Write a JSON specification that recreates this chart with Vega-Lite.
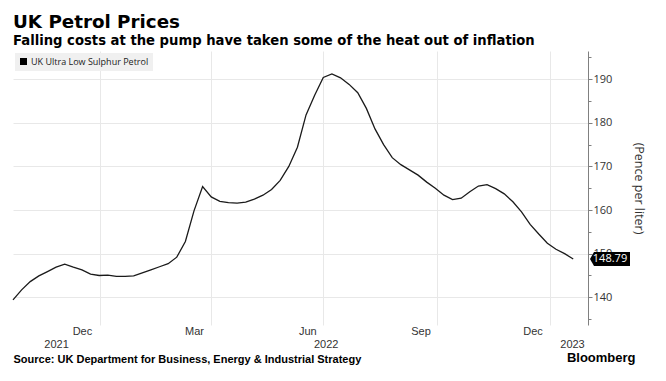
{
  "$schema": "https://vega.github.io/schema/vega-lite/v6.json",
  "autosize": {"type": "none"},
  "width": 575,
  "height": 274,
  "padding": {"left": 13, "top": 51, "right": 78, "bottom": 56},
  "background": "white",
  "title": {
    "text": "UK Petrol Prices",
    "subtitle": "Falling costs at the pump have taken some of the heat out of inflation",
    "anchor": "start",
    "frame": "group",
    "font": "DejaVu Sans",
    "fontSize": 18.3,
    "fontWeight": "bold",
    "color": "#000000",
    "subtitleFont": "DejaVu Sans",
    "subtitleFontSize": 13.2,
    "subtitleFontWeight": "bold",
    "subtitleColor": "#000000",
    "subtitlePadding": 3,
    "offset": 3
  },
  "config": {
    "view": {"stroke": null},
    "axis": {"labelFont": "Liberation Sans", "titleFont": "Liberation Sans"}
  },
  "data": {
    "values": [
      {"date": "2021-10-22", "value": 139.4},
      {"date": "2021-10-29", "value": 141.7},
      {"date": "2021-11-05", "value": 143.6},
      {"date": "2021-11-12", "value": 144.9},
      {"date": "2021-11-19", "value": 145.9},
      {"date": "2021-11-26", "value": 146.9},
      {"date": "2021-12-03", "value": 147.6},
      {"date": "2021-12-10", "value": 146.9},
      {"date": "2021-12-17", "value": 146.3},
      {"date": "2021-12-24", "value": 145.3},
      {"date": "2021-12-31", "value": 145.0},
      {"date": "2022-01-07", "value": 145.1},
      {"date": "2022-01-14", "value": 144.8},
      {"date": "2022-01-21", "value": 144.8},
      {"date": "2022-01-28", "value": 144.9},
      {"date": "2022-02-04", "value": 145.6},
      {"date": "2022-02-11", "value": 146.3},
      {"date": "2022-02-18", "value": 147.0},
      {"date": "2022-02-25", "value": 147.7},
      {"date": "2022-03-04", "value": 149.2},
      {"date": "2022-03-11", "value": 152.8},
      {"date": "2022-03-18", "value": 159.8},
      {"date": "2022-03-25", "value": 165.4},
      {"date": "2022-04-01", "value": 163.0},
      {"date": "2022-04-08", "value": 162.0},
      {"date": "2022-04-15", "value": 161.7},
      {"date": "2022-04-22", "value": 161.6},
      {"date": "2022-04-29", "value": 161.8},
      {"date": "2022-05-06", "value": 162.5},
      {"date": "2022-05-13", "value": 163.4},
      {"date": "2022-05-20", "value": 164.7},
      {"date": "2022-05-27", "value": 166.8},
      {"date": "2022-06-03", "value": 170.0},
      {"date": "2022-06-10", "value": 174.4},
      {"date": "2022-06-17", "value": 181.8},
      {"date": "2022-06-24", "value": 186.3},
      {"date": "2022-07-01", "value": 190.4},
      {"date": "2022-07-08", "value": 191.2},
      {"date": "2022-07-15", "value": 190.3},
      {"date": "2022-07-22", "value": 188.8},
      {"date": "2022-07-29", "value": 186.9},
      {"date": "2022-08-05", "value": 183.3},
      {"date": "2022-08-12", "value": 178.6},
      {"date": "2022-08-19", "value": 175.0},
      {"date": "2022-08-26", "value": 172.0},
      {"date": "2022-09-02", "value": 170.4},
      {"date": "2022-09-09", "value": 169.2},
      {"date": "2022-09-16", "value": 168.0},
      {"date": "2022-09-23", "value": 166.4},
      {"date": "2022-09-30", "value": 165.0},
      {"date": "2022-10-07", "value": 163.4},
      {"date": "2022-10-14", "value": 162.4},
      {"date": "2022-10-21", "value": 162.7},
      {"date": "2022-10-28", "value": 164.2},
      {"date": "2022-11-04", "value": 165.5},
      {"date": "2022-11-11", "value": 165.8},
      {"date": "2022-11-18", "value": 164.9},
      {"date": "2022-11-25", "value": 163.7},
      {"date": "2022-12-02", "value": 161.9},
      {"date": "2022-12-09", "value": 159.6},
      {"date": "2022-12-16", "value": 156.7},
      {"date": "2022-12-23", "value": 154.5},
      {"date": "2022-12-30", "value": 152.4},
      {"date": "2023-01-06", "value": 151.0},
      {"date": "2023-01-13", "value": 150.0},
      {"date": "2023-01-20", "value": 148.79}
    ]
  },
  "layer": [
    {
      "mark": {"type": "line", "color": "#1a1a1a", "strokeWidth": 1.3},
      "encoding": {
        "x": {
          "field": "date", "type": "temporal",
          "scale": {"domain": ["2021-10-22", "2023-02-01"]},
          "axis": {
            "orient": "bottom",
            "values": [
              {"year": 2022, "month": 1, "date": 1},
              {"year": 2022, "month": 4, "date": 1},
              {"year": 2022, "month": 7, "date": 1},
              {"year": 2022, "month": 10, "date": 1},
              {"year": 2023, "month": 1, "date": 1}
            ],
            "grid": true, "gridColor": "#e8e8e8", "gridWidth": 1,
            "labels": false, "ticks": false, "tickSize": 0, "domain": false,
            "title": "Bloomberg",
            "titleFont": "Liberation Sans", "titleFontSize": 13, "titleFontWeight": "bold",
            "titleColor": "#000000", "titleAlign": "right", "titleBaseline": "alphabetic",
            "titleX": 622, "titleY": 36
          }
        },
        "y": {
          "field": "value", "type": "quantitative",
          "scale": {"domain": [133.65, 196.45], "nice": false, "zero": false},
          "axis": {
            "orient": "right",
            "values": [140, 150, 160, 170, 180, 190],
            "grid": true, "gridColor": "#e8e8e8", "gridWidth": 1,
            "domainColor": "#808080", "domainWidth": 1,
            "tickColor": "#808080", "tickSize": 4, "tickWidth": 1,
            "labelFont": "Open Sans", "labelFontSize": 11, "labelColor": "#333333", "labelPadding": 1,
            "title": "(Pence per liter)",
            "titleFont": "Open Sans", "titleFontSize": 12.5, "titleFontWeight": "normal",
            "titleColor": "#333333", "titlePadding": 20
          }
        },
        "color": {
          "datum": "UK Ultra Low Sulphur Petrol",
          "scale": {"range": ["#1a1a1a"]},
          "legend": {
            "orient": "top-left", "offset": 2, "title": null,
            "padding": 4, "fillColor": "#f0f0f0",
            "symbolType": "square", "symbolSize": 49,
            "labelFont": "Open Sans", "labelFontSize": 9, "labelColor": "#222222", "labelOffset": 3,
            "encode": {"symbols": {"update": {"fill": {"value": "#000000"}, "stroke": {"value": "#000000"}, "strokeWidth": {"value": 0}}}}
          }
        }
      }
    },
    {
      "mark": {"type": "point", "opacity": 0},
      "encoding": {
        "x": {
          "field": "date", "type": "temporal",
          "axis": {
            "orient": "bottom",
            "values": [
              {"year": 2021, "month": 12, "date": 17},
              {"year": 2022, "month": 3, "date": 18},
              {"year": 2022, "month": 6, "date": 18},
              {"year": 2022, "month": 9, "date": 18},
              {"year": 2022, "month": 12, "date": 18}
            ],
            "format": "%b", "grid": false, "ticks": false, "tickSize": 0, "domain": false,
            "labelFontSize": 11, "labelColor": "#333333", "labelPadding": 0,
            "title": null
          }
        },
        "y": {"field": "value", "type": "quantitative", "axis": null}
      }
    },
    {
      "mark": {"type": "point", "opacity": 0},
      "encoding": {
        "x": {
          "field": "date", "type": "temporal",
          "axis": {
            "orient": "bottom",
            "values": [
              {"year": 2021, "month": 11, "date": 26},
              {"year": 2022, "month": 7, "date": 3},
              {"year": 2023, "month": 1, "date": 19}
            ],
            "format": "%Y", "grid": false, "ticks": false, "tickSize": 0, "domain": false,
            "labelFontSize": 11, "labelColor": "#333333", "labelPadding": 0,
            "offset": 13,
            "title": "Source: UK Department for Business, Energy & Industrial Strategy",
            "titleFont": "Liberation Sans", "titleFontSize": 11, "titleFontWeight": "bold",
            "titleColor": "#000000", "titleAnchor": "start", "titleAlign": "left", "titlePadding": 4
          }
        },
        "y": {"field": "value", "type": "quantitative", "axis": null}
      }
    },
    {
      "mark": {"type": "point", "opacity": 0},
      "encoding": {
        "x": {"field": "date", "type": "temporal", "axis": null},
        "y": {
          "field": "value", "type": "quantitative",
          "axis": {
            "orient": "right",
            "values": [135, 145, 155, 165, 175, 185, 195],
            "labels": false, "grid": false, "domain": false,
            "tickColor": "#808080", "tickSize": 3, "tickWidth": 1, "title": null
          }
        }
      }
    },
    {
      "transform": [{"filter": "datum.value == 148.79"}],
      "mark": {
        "type": "point", "filled": true, "opacity": 1, "color": "#000000",
        "shape": "M -1 0 L -0.8 -0.35 L 1 -0.35 L 1 0.35 L -0.8 0.35 Z",
        "size": 1600, "clip": false
      },
      "encoding": {
        "x": {"value": "width"},
        "xOffset": {"value": 22},
        "y": {"field": "value", "type": "quantitative", "axis": null}
      }
    },
    {
      "transform": [{"filter": "datum.value == 148.79"}],
      "mark": {
        "type": "text", "color": "#ffffff", "font": "Open Sans", "fontSize": 11,
        "align": "center", "baseline": "middle", "dx": 22, "clip": false
      },
      "encoding": {
        "x": {"value": "width"},
        "y": {"field": "value", "type": "quantitative", "axis": null},
        "text": {"field": "value", "type": "quantitative", "format": ".2f"}
      }
    }
  ],
  "resolve": {"axis": {"x": "independent", "y": "independent"}}
}
